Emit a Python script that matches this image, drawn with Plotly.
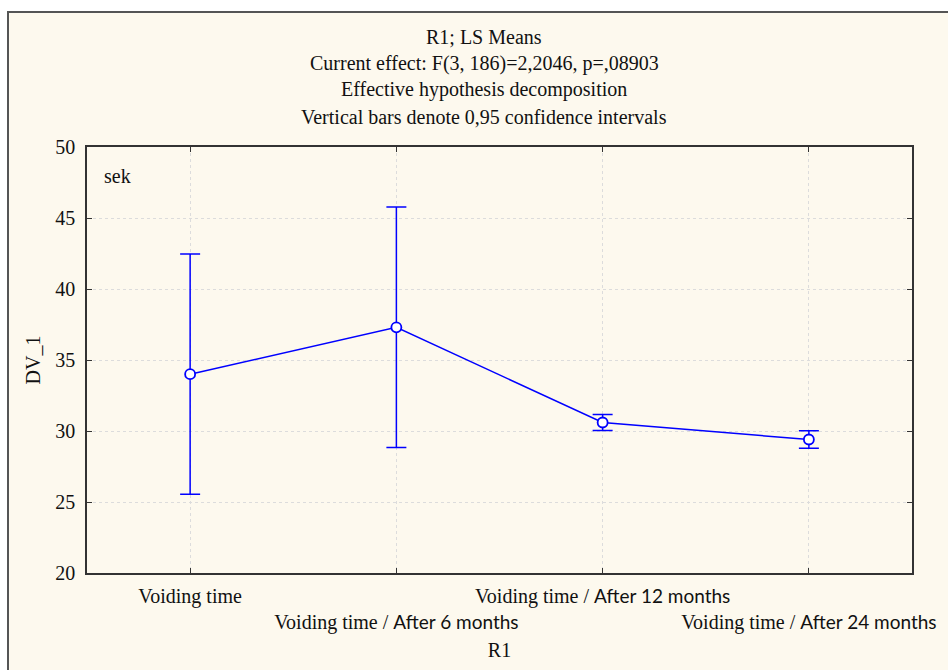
import plotly.graph_objects as go

categories = ["Voiding time",
              "Voiding time / After 6 months",
              "Voiding time / After 12 months",
              "Voiding time / After 24 months"]
SANS_SPAN = "<span style='font-family:Lato;font-size:19px'>{}</span>"
tick_labels = [
    "Voiding time",
    "<br>Voiding time / " + SANS_SPAN.format("After 6 months"),
    "Voiding time / " + SANS_SPAN.format("After 12 months"),
    "<br>Voiding time / " + SANS_SPAN.format("After 24 months"),
]
means = [34.0, 37.3, 30.6, 29.4]
ci_half = [8.46, 8.47, 0.56, 0.62]
y_ticks = [20, 25, 30, 35, 40, 45, 50]
title_lines = ["R1; LS Means",
               "Current effect: F(3, 186)=2,2046, p=,08903",
               "Effective hypothesis decomposition",
               "Vertical bars denote 0,95 confidence intervals"]

SERIF = "Liberation Serif"
BLUE = "#0000FF"
CREAM = "#FDF9EE"
TXT = "#111111"
FS = 20

W, H = 948, 670
L, R, T, B = 87, 36, 147, 97
pw, ph = W - L - R, H - T - B

def px2x(px):
    return (px - L) / pw

def py2y(py):
    return (H - B - py) / ph

x_idx = list(range(len(categories)))

fig = go.Figure()
fig.add_trace(go.Scatter(
    x=x_idx, y=means,
    mode="lines+markers",
    line=dict(color=BLUE, width=1.5),
    marker=dict(symbol="circle", size=10, color="white",
                line=dict(color=BLUE, width=1.8)),
    error_y=dict(type="data", array=ci_half, visible=True,
                 color=BLUE, thickness=1.5, width=10),
    showlegend=False,
    cliponaxis=False,
))

shapes = [dict(type="rect", xref="paper", yref="paper",
               x0=px2x(8), x1=px2x(960), y0=py2y(690), y1=py2y(12),
               fillcolor=CREAM, line=dict(color="#555555", width=2),
               layer="below")]

annotations = []
title_y = [37, 64, 90, 117]
for txt, yy in zip(title_lines, title_y):
    annotations.append(dict(text=txt, xref="paper", yref="paper",
                            x=px2x(484), y=py2y(yy), showarrow=False,
                            xanchor="center", yanchor="middle",
                            font=dict(family=SERIF, size=FS, color=TXT)))
annotations.append(dict(text="sek", xref="paper", yref="paper",
                        x=px2x(102), y=py2y(176), showarrow=False,
                        xanchor="left", yanchor="middle",
                        font=dict(family=SERIF, size=FS, color=TXT)))

fig.update_layout(
    width=W, height=H,
    margin=dict(l=L, r=R, t=T, b=B, pad=0, autoexpand=False),
    paper_bgcolor="white",
    plot_bgcolor="white",
    shapes=shapes,
    annotations=annotations,
    font=dict(family=SERIF, size=FS, color=TXT),
    xaxis=dict(
        range=[-0.5, 3.5],
        tickmode="array", tickvals=x_idx, ticktext=tick_labels,
        tickangle=0, automargin=False,
        ticks="inside", ticklen=5, tickcolor="#333333",
        showline=True, linecolor="#333333", linewidth=1.5, mirror="ticks",
        showgrid=True, gridcolor="#dcdcdc", griddash="dot", gridwidth=1,
        zeroline=False,
        tickfont=dict(family=SERIF, size=FS, color=TXT),
        ticklabelstandoff=4,
        title=dict(text="R1", font=dict(family=SERIF, size=FS, color=TXT),
                   standoff=10),
    ),
    yaxis=dict(
        range=[20, 50],
        tickmode="array", tickvals=y_ticks, automargin=False,
        ticks="inside", ticklen=5, tickcolor="#333333",
        showline=True, linecolor="#333333", linewidth=1.5, mirror="ticks",
        showgrid=True, gridcolor="#dcdcdc", griddash="dot", gridwidth=1,
        zeroline=False,
        tickfont=dict(family=SERIF, size=FS, color=TXT),
        ticklabelstandoff=6,
        title=dict(text="DV_1", font=dict(family=SERIF, size=FS, color=TXT),
                   standoff=9),
    ),
)

fig.write_html("out.html")
